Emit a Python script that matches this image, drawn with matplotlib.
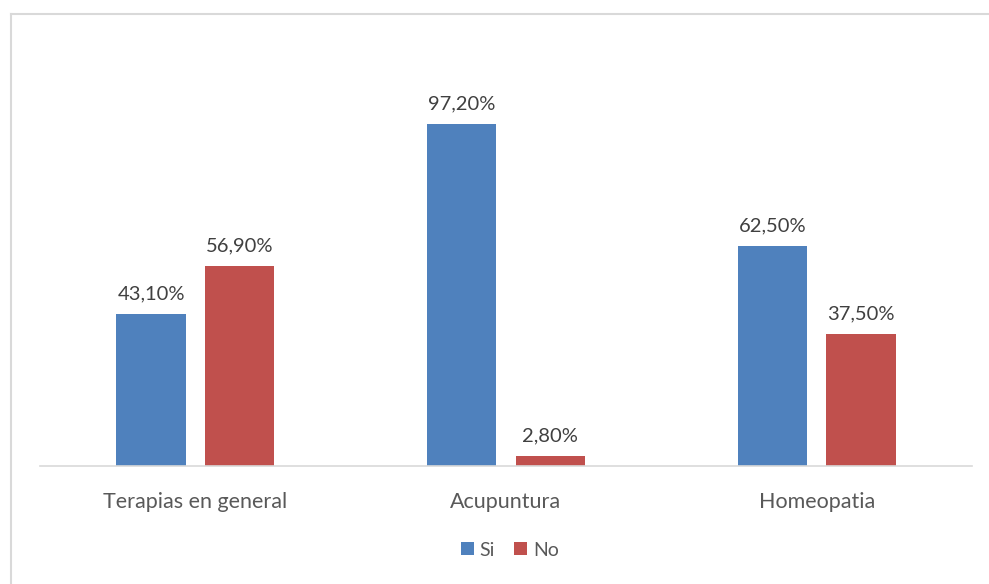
import matplotlib
matplotlib.use('Agg')
from matplotlib import pyplot as plt
from matplotlib.lines import Line2D
import numpy as np

categorias = ['Terapias en general', 'Acupuntura', 'Homeopatia']
si = [43.10, 97.20, 62.50]
no = [56.90, 2.80, 37.50]
series = ['Si', 'No']

plt.rcParams['font.family'] = ['Lato', 'DejaVu Sans']

W, H = 989, 584
fig = plt.figure(figsize=(W / 100, H / 100), dpi=100)
# ejes en pixeles: izquierda 40, derecha 972, base 466, arriba 44
ax = fig.add_axes([40 / W, 1 - 466 / H, 932 / W, (466 - 44) / H])

x = np.arange(len(categorias))
ancho = 0.223
off = 0.1425
b1 = ax.bar(x - off, si, ancho, color='#4F81BD', label=series[0])
b2 = ax.bar(x + off, no, ancho, color='#C0504D', label=series[1])

for barras, vals in [(b1, si), (b2, no)]:
    for r, v in zip(barras, vals):
        ax.text(r.get_x() + r.get_width() / 2, v + 3.3,
                '{:.2f}%'.format(v).replace('.', ','),
                ha='center', va='bottom', fontsize=14.5, color='#404040')

ax.set_xlim(-0.5, 2.5)
ax.set_ylim(0, 119.9)
ax.set_yticks([])
ax.set_xticks(x)
ax.set_xticklabels(categorias, fontsize=15.5, color='#595959')
ax.tick_params(axis='x', length=0, pad=19)
for s in ['top', 'right', 'left']:
    ax.spines[s].set_visible(False)
ax.spines['bottom'].set_color('#D9D9D9')
ax.spines['bottom'].set_linewidth(1.2)

ax.legend(loc='center', bbox_to_anchor=(510 / W, 1 - 550 / H),
          bbox_transform=fig.transFigure, ncol=2, frameon=False,
          fontsize=14, handlelength=0.65, handleheight=0.65,
          handletextpad=0.3, columnspacing=1.0, labelcolor='#595959')

# borde gris del grafico
fig.add_artist(Line2D([10.5 / W, 10.5 / W], [0, 1 - 13.5 / H],
                      transform=fig.transFigure, color='#D9D9D9', lw=1.5))
fig.add_artist(Line2D([10.5 / W, 1], [1 - 13.5 / H, 1 - 13.5 / H],
                      transform=fig.transFigure, color='#D9D9D9', lw=1.5))

fig.savefig('out.png', dpi=100)
